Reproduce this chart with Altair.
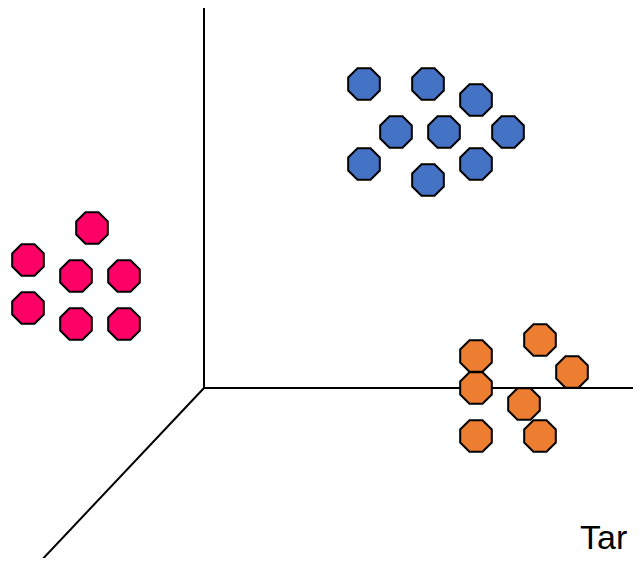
import altair as alt
import pandas as pd

# Cluster members (x, y) in a frame whose origin is the axes corner, y up
blue_x = [160, 224, 272, 192, 240, 304, 160, 224, 272]
blue_y = [304, 304, 288, 256, 256, 256, 224, 208, 224]
red_x = [-112, -176, -128, -80, -176, -128, -80]
red_y = [160, 128, 112, 112, 80, 64, 64]
orange_x = [336, 272, 368, 272, 320, 272, 336]
orange_y = [48, 32, 16, 0, -16, -48, -48]

# Axis segments of the 3-D frame
axis_x1 = [0, 0, 0]
axis_y1 = [0, 0, 0]
axis_x2 = [0, 460, -200]
axis_y2 = [384, 0, -212]

label_text = ["Tar"]
label_x = [376]
label_y = [-161]

clusters = ["blue", "red", "orange"]
colors = ["#4472C4", "#FF0066", "#ED7D31"]

rows = []
for name, xs_, ys_ in [("blue", blue_x, blue_y), ("red", red_x, red_y), ("orange", orange_x, orange_y)]:
    for x, y in zip(xs_, ys_):
        rows.append({"x": x, "y": y, "cluster": name})
pts = pd.DataFrame(rows)
axes_df = pd.DataFrame({"x": axis_x1, "y": axis_y1, "x2": axis_x2, "y2": axis_y2})
lab = pd.DataFrame({"x": label_x, "y": label_y, "t": label_text})

xs = alt.Scale(domain=[-196, 429])
ys = alt.Scale(domain=[-170, 380])

octagon = "M-0.414,-1L0.414,-1L1,-0.414L1,0.414L0.414,1L-0.414,1L-1,0.414L-1,-0.414Z"

axes_layer = alt.Chart(axes_df).mark_rule(color="black", strokeWidth=2, clip=False).encode(
    x=alt.X("x:Q", scale=xs, axis=None),
    y=alt.Y("y:Q", scale=ys, axis=None),
    x2="x2:Q",
    y2="y2:Q",
)

pts_layer = alt.Chart(pts).mark_point(
    shape=octagon, filled=True, size=1000, stroke="black", strokeWidth=2, opacity=1
).encode(
    x=alt.X("x:Q", scale=xs, axis=None),
    y=alt.Y("y:Q", scale=ys, axis=None),
    fill=alt.Fill("cluster:N", scale=alt.Scale(domain=clusters, range=colors), legend=None),
)

text_layer = alt.Chart(lab).mark_text(
    align="left", baseline="alphabetic", fontSize=34, font="Liberation Sans", color="black", clip=False
).encode(
    x=alt.X("x:Q", scale=xs, axis=None),
    y=alt.Y("y:Q", scale=ys, axis=None),
    text="t:N",
)

chart = alt.layer(axes_layer, pts_layer, text_layer).properties(
    width=625, height=550, padding=0, autosize=alt.AutoSizeParams(type="none"), background="white"
).configure_view(stroke=None)

chart.save("out.html", embed_options={"renderer": "svg", "actions": False})
